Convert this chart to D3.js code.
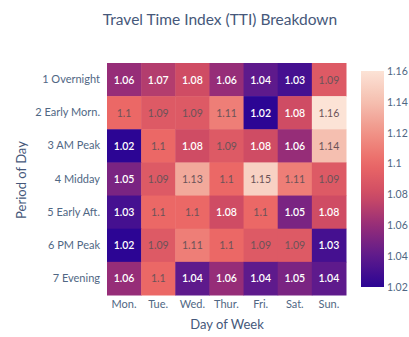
<!DOCTYPE html>
<html><head><meta charset="utf-8">
<script src="https://cdn.jsdelivr.net/npm/d3@7"></script>
<style>body{margin:0;background:#fff}svg{display:block}text{font-family:Lato,"Open Sans",sans-serif}</style>
</head><body><svg id="c" width="409" height="337"></svg>
<script>
const days = ["Mon.","Tue.","Wed.","Thur.","Fri.","Sat.","Sun."];
const periods = ["1 Overnight","2 Early Morn.","3 AM Peak","4 Midday","5 Early Aft.","6 PM Peak","7 Evening"];
const overnight = [1.06,1.07,1.08,1.06,1.04,1.03,1.09];
const earlyMorn = [1.1,1.09,1.09,1.11,1.02,1.08,1.16];
const amPeak = [1.02,1.1,1.08,1.09,1.08,1.06,1.14];
const midday = [1.05,1.09,1.13,1.1,1.15,1.11,1.09];
const earlyAft = [1.03,1.1,1.1,1.08,1.1,1.05,1.08];
const pmPeak = [1.02,1.09,1.11,1.1,1.09,1.09,1.03];
const evening = [1.06,1.1,1.04,1.06,1.04,1.05,1.04];
const rows = [overnight,earlyMorn,amPeak,midday,earlyAft,pmPeak,evening];
const colorTicks = [1.02,1.04,1.06,1.08,1.1,1.12,1.14,1.16];

const svg = d3.select("#c");
const L=107,R=346,T=63,B=295;
const x = d3.scaleBand().domain(days).range([L,R]);
const y = d3.scaleBand().domain(periods).range([T,B]);
const stops = ["#2c0594","#5e1a8c","#962d78","#cf4c64","#eb6866","#f09387","#f5bfb0","#fce3d6"];
const color = d3.scaleLinear().domain(d3.range(stops.length).map(i=>1.02+i*0.02)).range(stops).interpolate(d3.interpolateRgb).clamp(true);

const cells = [];
rows.forEach((r,j)=>r.forEach((v,i)=>cells.push({p:periods[j],d:days[i],v})));
const g = svg.append("g");
g.selectAll("rect").data(cells).join("rect")
 .attr("x",d=>x(d.d)).attr("y",d=>y(d.p)).attr("width",x.bandwidth()+0.5).attr("height",y.bandwidth()+0.5)
 .attr("fill",d=>color(d.v));
g.selectAll("text").data(cells).join("text")
 .attr("x",d=>x(d.d)+x.bandwidth()/2).attr("y",d=>y(d.p)+y.bandwidth()/2)
 .attr("text-anchor","middle").attr("dominant-baseline","central")
 .attr("font-size",10.5).attr("font-weight",d=>d.v<=1.085?600:400)
 .attr("fill",d=>d.v<=1.085?"#ffffff":"#6b5358")
 .text(d=>String(d.v));

// axes
const xa = svg.append("g").attr("transform",`translate(0,${B})`).call(d3.axisBottom(x).tickSize(0).tickPadding(5));
xa.select(".domain").remove();
xa.selectAll("text").attr("font-size",11).attr("fill","#506784").style("font-family","Lato,sans-serif");
const ya = svg.append("g").attr("transform",`translate(${L},0)`).call(d3.axisLeft(y).tickSize(0).tickPadding(7));
ya.select(".domain").remove();
ya.selectAll("text").attr("font-size",11).attr("fill","#506784").style("font-family","Lato,sans-serif");

svg.append("text").attr("x",220).attr("y",25).attr("text-anchor","middle").attr("font-size",15.5).attr("fill","#46587a").text("Travel Time Index (TTI) Breakdown");
svg.append("text").attr("x",227).attr("y",329).attr("text-anchor","middle").attr("font-size",13).attr("fill","#46587a").text("Day of Week");
svg.append("text").attr("transform","translate(26,180) rotate(-90)").attr("text-anchor","middle").attr("font-size",13).attr("fill","#46587a").text("Period of Day");

// colorbar
const cy = d3.scaleLinear().domain([1.02,1.16]).range([287,71]);
const defs = svg.append("defs");
const lg = defs.append("linearGradient").attr("id","cb").attr("x1",0).attr("y1",1).attr("x2",0).attr("y2",0);
d3.range(0,1.0001,0.05).forEach(t=>lg.append("stop").attr("offset",t).attr("stop-color",color(1.02+t*0.14)));
svg.append("rect").attr("x",361).attr("y",71).attr("width",23).attr("height",216).attr("fill","url(#cb)");
const ca = svg.append("g").attr("transform","translate(384,0)").call(d3.axisRight(cy).tickValues(colorTicks).tickSize(0).tickPadding(3).tickFormat(d=>String(+d.toFixed(2))));
ca.select(".domain").remove();
ca.selectAll("text").attr("font-size",10.5).attr("fill","#506784").style("font-family","Lato,sans-serif");
</script></body></html>
